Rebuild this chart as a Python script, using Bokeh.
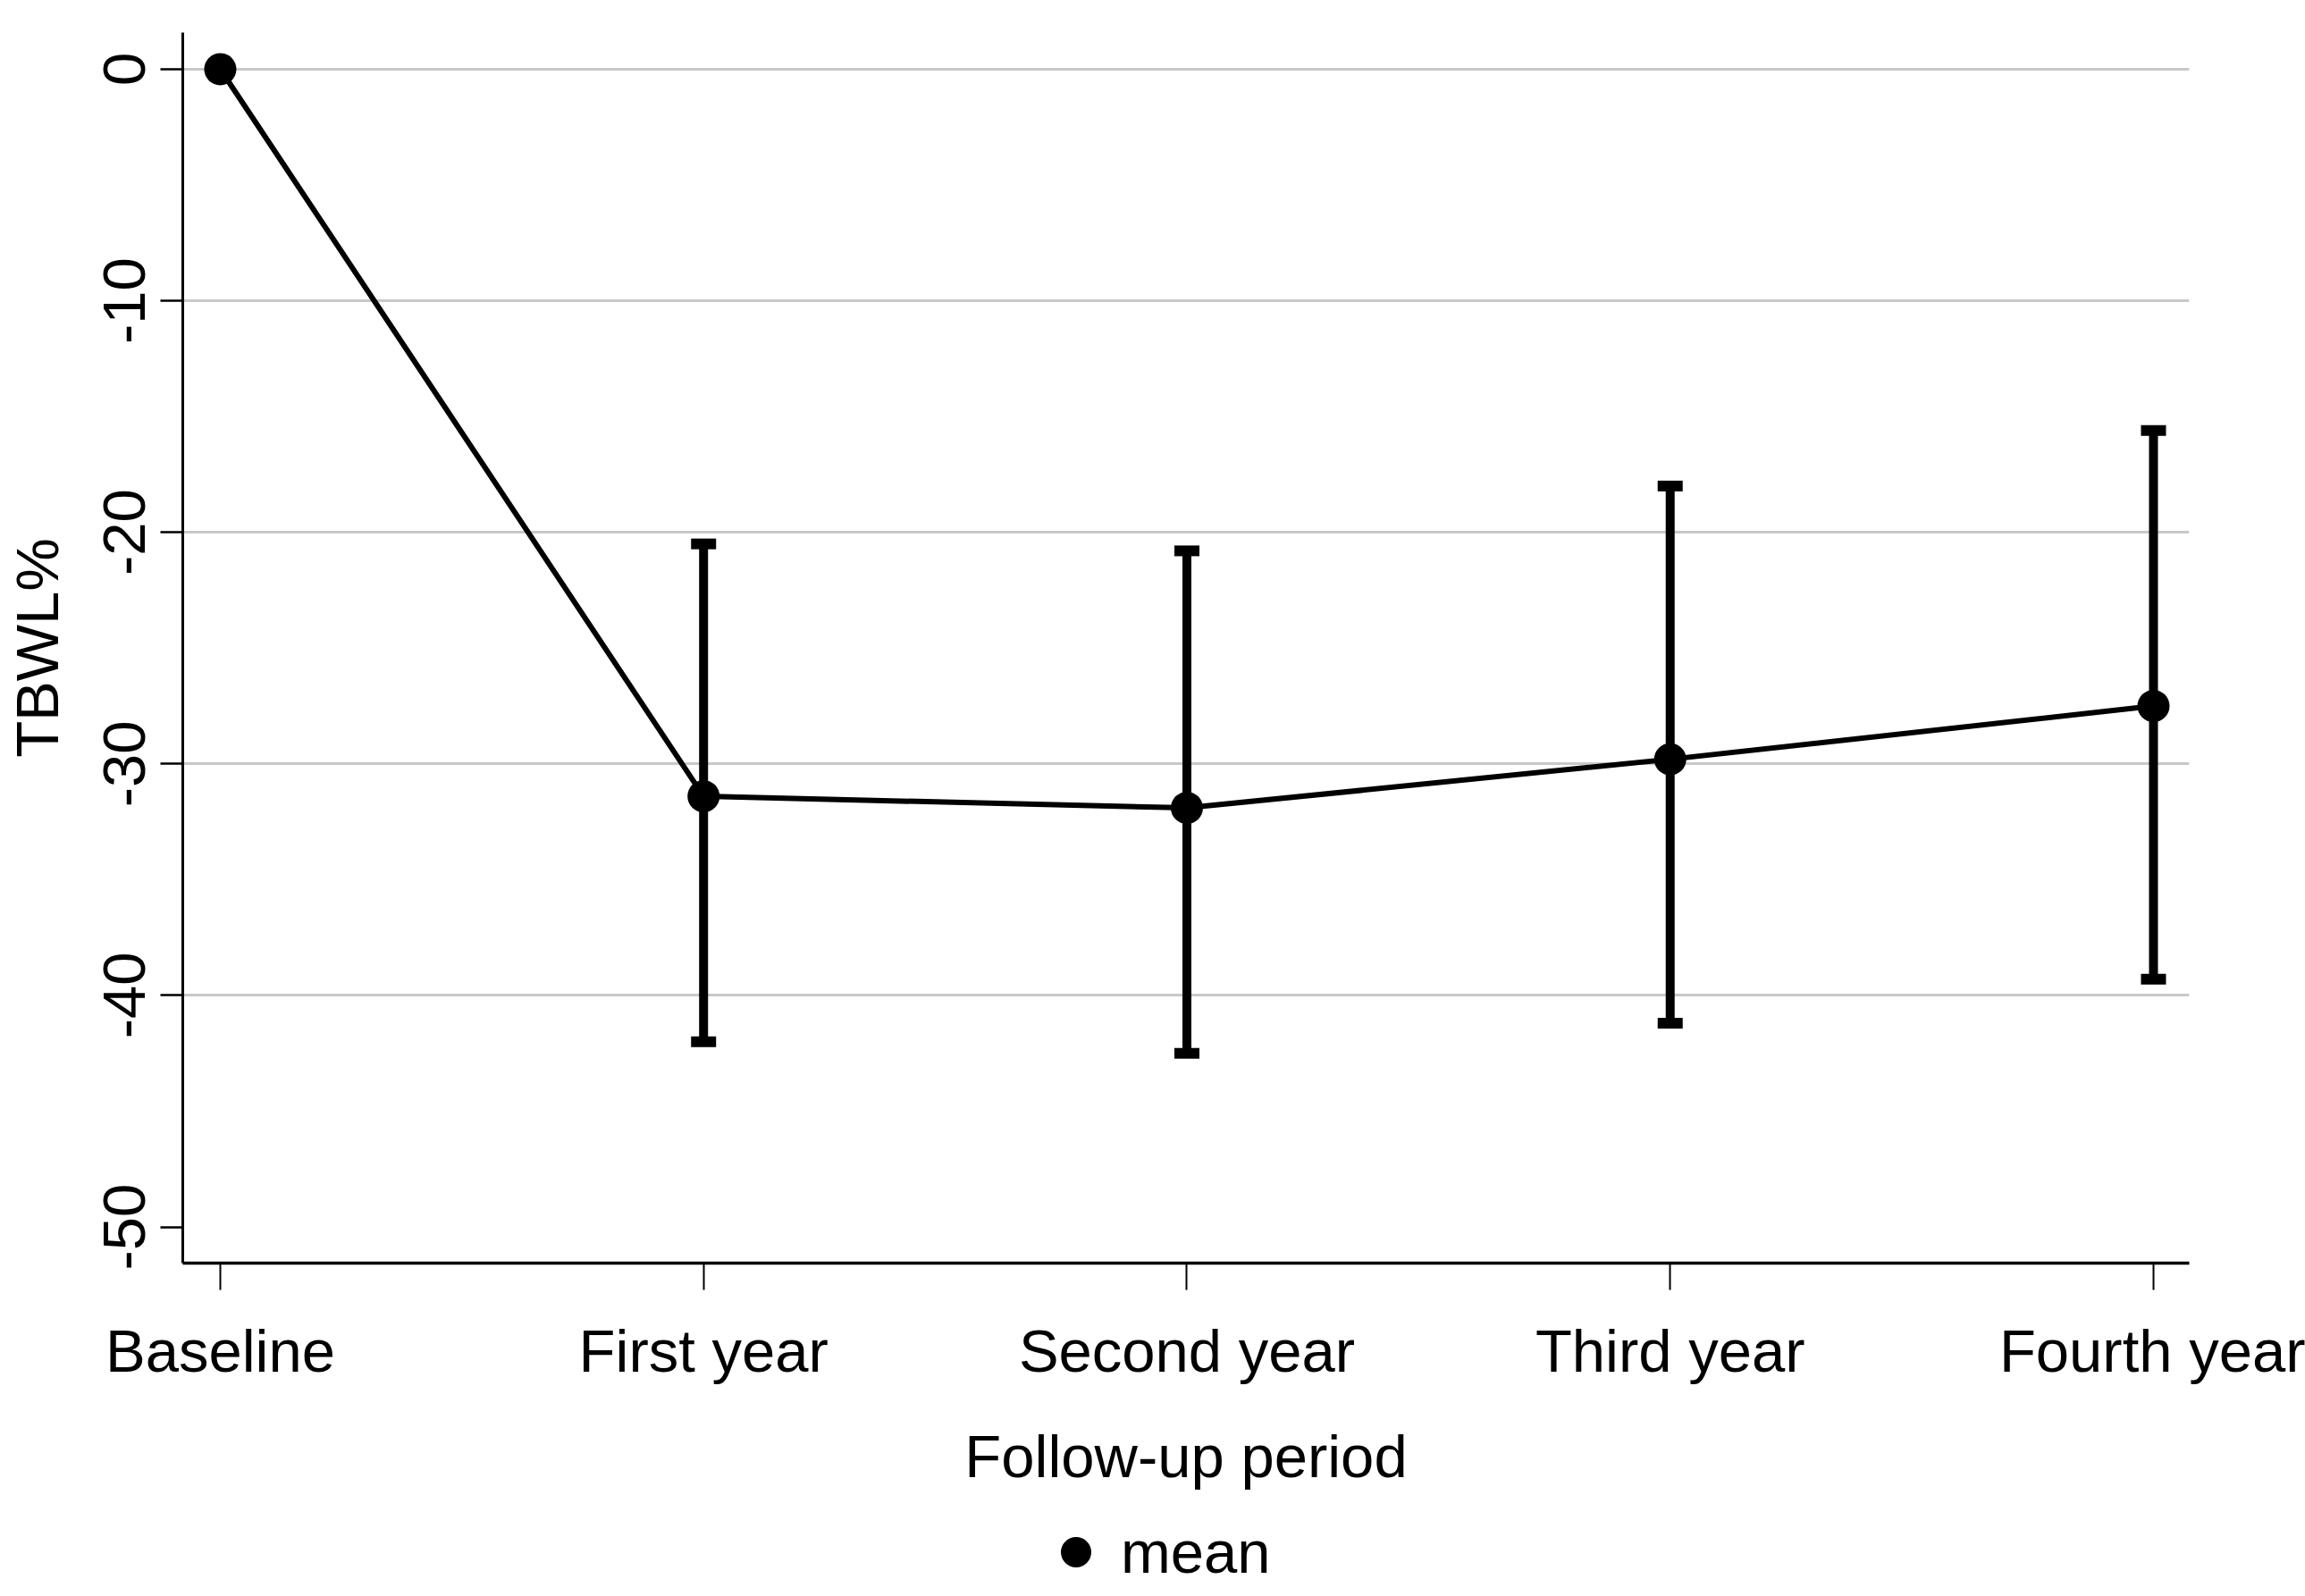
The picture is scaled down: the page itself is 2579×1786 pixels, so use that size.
from bokeh.plotting import figure
from bokeh.layouts import column
from bokeh.models import Range1d, FixedTicker, Legend, LegendItem, ColumnDataSource
from bokeh.embed import file_html
from bokeh.resources import INLINE

# ---- data ----
periods = ["Baseline", "First year", "Second year", "Third year", "Fourth year"]
mean_tbwl = [0.0, -31.4, -31.9, -29.8, -27.5]
err_periods = ["First year", "Second year", "Third year", "Fourth year"]
upper_tbwl = [-20.5, -20.8, -18.0, -15.6]
lower_tbwl = [-42.0, -42.5, -41.2, -39.3]
y_ticks = [-50, -40, -30, -20, -10, 0]
grid_ticks = [-40, -30, -20, -10, 0]
legend_label = "mean"

FONT = "Liberation Sans"
W = 2579
H_MAIN, H_LEG = 1686, 100
FRAME_BOTTOM = 1413

x_pos = list(range(len(periods)))
err_x = [periods.index(c) for c in err_periods]

p = figure(width=W, height=H_MAIN, output_backend="svg", toolbar_location=None,
           x_range=Range1d(-0.0776, 4.074), y_range=Range1d(-51.56, 1.58),
           min_border_left=203, min_border_right=130, min_border_top=36,
           min_border_bottom=H_MAIN - FRAME_BOTTOM)
p.outline_line_color = None
p.background_fill_color = "white"
p.border_fill_color = "white"

# grid
p.xgrid.visible = False
p.ygrid.ticker = FixedTicker(ticks=grid_ticks)
p.ygrid.grid_line_color = "#c8c8c8"
p.ygrid.grid_line_width = 3

# x axis
xa = p.xaxis[0]
xa.ticker = FixedTicker(ticks=x_pos)
xa.major_label_overrides = {i: c for i, c in enumerate(periods)}
xa.major_tick_out = 30
xa.major_tick_in = 0
xa.minor_tick_out = 0
xa.minor_tick_in = 0
xa.major_tick_line_width = 2
xa.axis_line_width = 3.5
xa.major_label_text_font = FONT
xa.major_label_text_font_size = "67px"
xa.major_label_text_color = "black"
xa.major_label_standoff = 30
xa.axis_label = "Follow-up period"
xa.axis_label_text_font = FONT
xa.axis_label_text_font_size = "67px"
xa.axis_label_text_font_style = "normal"
xa.axis_label_text_color = "black"
xa.axis_label_standoff = 40

# y axis
ya = p.yaxis[0]
ya.ticker = FixedTicker(ticks=y_ticks)
ya.major_label_overrides = {t: str(t) for t in y_ticks}
ya.major_tick_out = 25
ya.major_tick_in = 0
ya.minor_tick_out = 0
ya.minor_tick_in = 0
ya.major_tick_line_width = 2.7
ya.axis_line_width = 3
ya.major_label_orientation = "vertical"
ya.major_label_text_font = FONT
ya.major_label_text_font_size = "67px"
ya.major_label_text_color = "black"
ya.major_label_standoff = 17
ya.axis_label = "TBWL%"
ya.axis_label_text_font = FONT
ya.axis_label_text_font_size = "67px"
ya.axis_label_text_font_style = "normal"
ya.axis_label_text_color = "black"
ya.axis_label_standoff = 35

# glyphs
src = ColumnDataSource(dict(x=x_pos, mean=mean_tbwl))
err = ColumnDataSource(dict(x=err_x, lo=lower_tbwl, hi=upper_tbwl))

p.line("x", "mean", source=src, line_color="black", line_width=6)
p.segment(x0="x", y0="lo", x1="x", y1="hi", source=err,
          line_color="black", line_width=10)
p.rect(x="x", y="hi", width=28, height=12, width_units="screen",
       height_units="screen", source=err, fill_color="black", line_color=None)
p.rect(x="x", y="lo", width=28, height=12, width_units="screen",
       height_units="screen", source=err, fill_color="black", line_color=None)
p.scatter("x", "mean", source=src, size=36, fill_color="black",
          line_color=None)

# legend strip (separate small canvas below the chart); its key renderer
# uses the same means, which all fall outside this strip's y range
q = figure(width=W, height=H_LEG, output_backend="svg", toolbar_location=None,
           x_axis_type=None, y_axis_type=None, min_border=0,
           x_range=Range1d(-0.0776, 4.074), y_range=Range1d(1000, 1001))
q.outline_line_color = None
q.grid.visible = False
key = q.scatter("x", "mean", source=src, size=36, fill_color="black",
                line_color=None)
legend = Legend(items=[LegendItem(label=legend_label, renderers=[key])],
                location=(957, 7))
legend.glyph_width = 85
legend.glyph_height = 85
legend.padding = 0
legend.margin = 0
legend.spacing = 0
legend.label_standoff = 8
legend.label_text_font = FONT
legend.label_text_font_size = "67px"
legend.label_text_color = "black"
legend.border_line_color = None
legend.background_fill_alpha = 0
q.add_layout(legend)

layout = column(p, q, spacing=0)
open("out.html", "w").write(file_html(layout, INLINE))
